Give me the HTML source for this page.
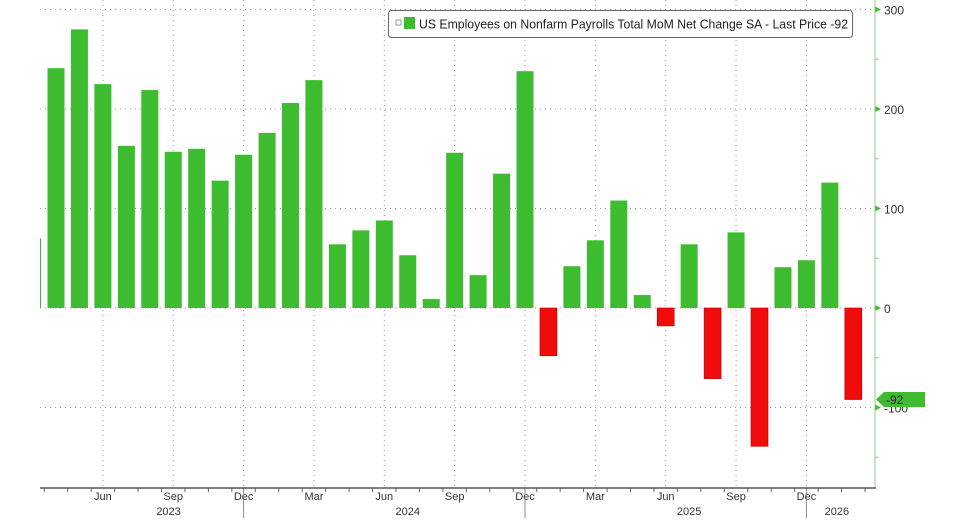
<!DOCTYPE html>
<html><head><meta charset="utf-8"><style>
html,body{margin:0;padding:0;background:#fff;}
svg{display:block;font-family:"Liberation Sans",sans-serif;}
</style></head><body>
<svg id="chart" width="958" height="520">
<defs><clipPath id="plotclip"><rect x="40" y="0" width="835" height="488"/></clipPath></defs>
<g id="grid"></g>
<g id="bars" clip-path="url(#plotclip)"></g>
<g id="axes"></g>
<g>
<rect x="388.5" y="10.5" width="464" height="27" rx="3" fill="#fff" stroke="#666" stroke-width="1"/>
<rect x="396" y="20" width="5" height="5" fill="none" stroke="#888" stroke-width="0.8"/>
<rect x="404" y="17" width="11" height="12" fill="#3cbc2e"/>
<text x="419" y="28.5" font-size="12.5" fill="#222" textLength="429" lengthAdjust="spacingAndGlyphs">US Employees on Nonfarm Payrolls Total MoM Net Change SA - Last Price -92</text>
</g>
</svg>
<script>
const months = ["Mar23","Apr23","May23","Jun23","Jul23","Aug23","Sep23","Oct23","Nov23","Dec23","Jan24","Feb24","Mar24","Apr24","May24","Jun24","Jul24","Aug24","Sep24","Oct24","Nov24","Dec24","Jan25","Feb25","Mar25","Apr25","May25","Jun25","Jul25","Aug25","Sep25","Oct25","Nov25","Dec25","Jan26","Feb26"];
const values = [70,241,280,225,163,219,157,160,128,154,176,206,229,64,78,88,53,9,156,33,135,238,-48,42,68,108,13,-18,64,-71,76,-139,41,48,126,-92];
const yTicks = [300,200,100,0,-100];
const xLabels = [["Jun",3],["Sep",6],["Dec",9],["Mar",12],["Jun",15],["Sep",18],["Dec",21],["Mar",24],["Jun",27],["Sep",30],["Dec",33]];
const yearLabels = [["2023",5.8],["2024",16],["2025",28],["2026",34.3]];
const yearSeps = [9,21,33];
const NS="http://www.w3.org/2000/svg";
const x = i => 32.55 + i*23.45;
const y = v => 308 - v*0.995;
function mk(tag, attrs, parent){const e=document.createElementNS(NS,tag);for(const k in attrs)e.setAttribute(k,attrs[k]);parent.appendChild(e);return e;}
const grid=document.getElementById('grid'), bars=document.getElementById('bars'), axes=document.getElementById('axes');
yTicks.forEach(t=>{
  const l=mk('line',{x1:40,x2:875,y1:y(t),y2:y(t),stroke:'#999','stroke-dasharray':'1 4','stroke-width':1},grid);
  
  
  mk('path',{d:`M875 ${y(t)-3} L881 ${y(t)} L875 ${y(t)+3}Z`,fill:'#3cbc2e'},axes);
  mk('line',{x1:875,x2:879,y1:y(t-50),y2:y(t-50),stroke:'#8cc98c','stroke-width':1},axes);
  const tx=mk('text',{x:884,y:y(t)+5,'font-size':12,fill:'#333'},axes);
  tx.textContent=t;
  
  
});
xLabels.forEach(([lab,i])=>{
  const l=mk('line',{x1:x(i),x2:x(i),y1:0,y2:488,stroke:'#999','stroke-dasharray':'1 4','stroke-width':1},grid);
  
  
  const tx=mk('text',{x:x(i),y:500,'font-size':11,fill:'#333','text-anchor':'middle'},axes);
  tx.textContent=lab;
  
  
});
yearLabels.forEach(([lab,i])=>{
  const tx=mk('text',{x:x(i),y:515,'font-size':11,fill:'#333','text-anchor':'middle'},axes);
  tx.textContent=lab;
  
  
});
yearSeps.forEach(i=>{mk('line',{x1:x(i),x2:x(i),y1:488,y2:518,stroke:'#888','stroke-width':1},axes);});
for(let i=0;i<=35;i++){mk('line',{x1:x(i)+11.7,x2:x(i)+11.7,y1:488,y2:492,stroke:'#666','stroke-width':1},axes);}
values.forEach((v,i)=>{
  const top=Math.min(y(v),y(0)), h=Math.abs(y(v)-y(0));
  const r=mk('rect',{x:x(i)-8.5,y:top,width:17,height:h,fill:v>=0?'#3cbc2e':'#f10c0c',stroke:v>=0?'none':'#b00','stroke-width':0.6},bars);
  
  
});
mk('line',{x1:875,x2:875,y1:0,y2:488,stroke:'#8cc98c','stroke-width':1},axes);
mk('line',{x1:40,x2:876,y1:488,y2:488,stroke:'#555','stroke-width':1.5},axes);
const last=values[values.length-1];
const tag=mk('path',{d:`M876 ${y(last)} L884 ${y(last)-7.5} L925 ${y(last)-7.5} L925 ${y(last)+7.5} L884 ${y(last)+7.5}Z`,fill:'#3cbc2e'},axes);


const tt=mk('text',{x:886,y:y(last)+4.5,'font-size':12,fill:'#222'},axes);
tt.textContent=last;


</script>
</body></html>
